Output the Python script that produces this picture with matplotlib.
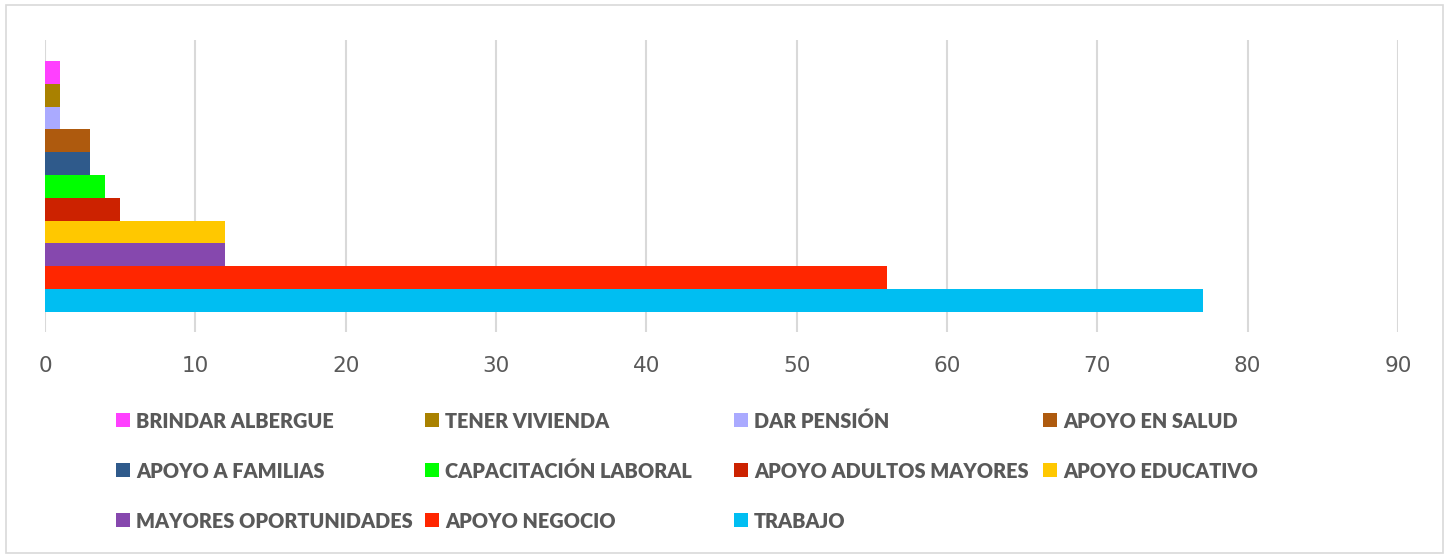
import matplotlib.pyplot as plt
from matplotlib.patches import Rectangle

labels = ["BRINDAR ALBERGUE", "TENER VIVIENDA", "DAR PENSIÓN", "APOYO EN SALUD",
          "APOYO A FAMILIAS", "CAPACITACIÓN LABORAL", "APOYO ADULTOS MAYORES",
          "APOYO EDUCATIVO", "MAYORES OPORTUNIDADES", "APOYO NEGOCIO", "TRABAJO"]
values = [1, 1, 1, 3, 3, 4, 5, 12, 12, 56, 77]
colors = ["#FF40FF", "#A98100", "#AAAAFF", "#AE5A0E", "#2F5A8B", "#00FF00",
          "#CC2200", "#FFC800", "#8648AE", "#FF2600", "#00BEF2"]
xticks = list(range(0, 100, 10))

W, H = 1448, 559
fig = plt.figure(figsize=(W / 100, H / 100), dpi=100)
fig.patches.append(Rectangle((6 / W, 1 - 553 / H), 1437 / W, 548 / H,
                             transform=fig.transFigure, fill=False,
                             edgecolor="#D9D9D9", linewidth=1.2))

ax = fig.add_axes([45 / W, 1 - 332 / H, 1353 / W, 292 / H])
for i, (lab, v, c) in enumerate(zip(labels, values, colors)):
    ax.barh(i, v, height=1.0, color=c, label=lab, zorder=3)

ax.set_xlim(0, 90)
ax.set_ylim(10.5 + 0.88, -0.5 - 0.92)
ax.set_xticks(xticks)
ax.set_yticks([])
ax.xaxis.grid(True, color="#D9D9D9", linewidth=1.5, zorder=0)
ax.tick_params(axis="x", length=0, pad=17, labelsize=15.5, labelcolor="#595959")
for s in ax.spines.values():
    s.set_visible(False)

# legend laid out like Excel: equal-width columns, filled row by row
col_x0, col_w = 116, 309
row_y0, row_h = 420, 50
box = 14
for k, (lab, c) in enumerate(zip(labels, colors)):
    r, col = divmod(k, 4)
    x = col_x0 + col * col_w
    y = row_y0 + r * row_h
    fig.patches.append(Rectangle((x / W, 1 - (y + box / 2) / H), box / W, box / H,
                                 transform=fig.transFigure, facecolor=c,
                                 edgecolor="none"))
    fig.text((x + box + 6) / W, 1 - y / H, lab, ha="left", va="center_baseline",
             fontsize=14.3, family="Lato", weight="heavy", color="#595959")

fig.savefig("out.png", dpi=100)
